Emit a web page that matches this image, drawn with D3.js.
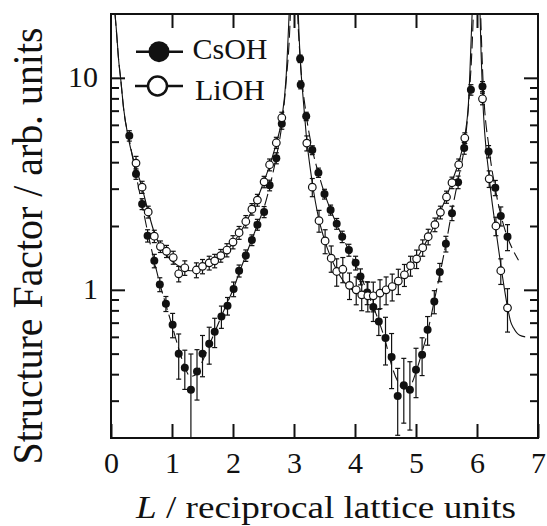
<!DOCTYPE html>
<html><head><meta charset="utf-8">
<script src="https://cdn.jsdelivr.net/npm/d3@7"></script>
<style>
body{margin:0;background:#fff}
svg{display:block}
text{font-family:"Liberation Serif","Times New Roman",serif;fill:#111}
</style>
</head><body>
<svg id="c" width="547" height="526"></svg>
<script>
// ---- data ----
const xTickVals=[0,1,2,3,4,5,6,7];
const xTickLabels=["0","1","2","3","4","5","6","7"];
const yTickVals=[1,10];
const yTickLabels=["1","10"];
const yMinorVals=[0.3,0.4,0.5,0.6,0.7,0.8,0.9,2,3,4,5,6,7,8,9];
const seriesNames=["CsOH","LiOH"];

const csL=[0.30,0.41,0.51,0.60,0.71,0.80,0.90,1.01,1.11,1.21,1.31,1.41,1.50,1.61,1.70,1.81,1.91,2.01,2.10,2.21,2.31,2.40,2.51,2.60,2.71,2.80,3.10,3.11,3.20,3.30,3.40,3.50,3.60,3.70,3.79,3.90,4.01,4.09,4.20,4.30,4.39,4.50,4.60,4.70,4.80,4.90,5.00,5.10,5.19,5.30,5.39,5.49,5.59,5.69,5.79,5.90,6.09,6.19,6.30,6.39,6.50];
const csV=[5.33,3.52,2.54,1.80,1.37,1.06,0.86,0.684,0.499,0.429,0.338,0.412,0.499,0.556,0.634,0.748,0.840,1.008,1.229,1.452,1.716,2.03,2.33,3.11,4.18,6.07,12.3,9.27,6.58,4.56,3.57,2.83,2.38,2.05,1.78,1.54,1.34,1.155,0.971,0.829,0.709,0.592,0.482,0.316,0.355,0.338,0.420,0.494,0.648,0.881,1.212,1.648,2.30,3.22,4.66,8.78,9.10,4.49,3.03,2.23,1.78];
const csE=[0.3,0.2,0.15,0.12,0.1,0.08,0.07,0.09,0.12,0.09,0.16,0.11,0.11,0.11,0.1,0.09,0.08,0.08,0.08,0.09,0.1,0.12,0.14,0.18,0.25,0.35,0.5,0.4,0.3,0.22,0.18,0.15,0.13,0.12,0.11,0.1,0.1,0.1,0.12,0.12,0.1,0.15,0.14,0.11,0.12,0.12,0.11,0.1,0.1,0.11,0.12,0.14,0.18,0.22,0.3,0.5,0.5,0.3,0.25,0.23,0.25];

const liL=[0.41,0.51,0.61,0.71,0.81,0.91,1.02,1.11,1.21,1.40,1.50,1.61,1.70,1.80,1.90,2.00,2.10,2.21,2.31,2.40,2.51,2.60,2.71,2.80,3.21,3.30,3.41,3.51,3.61,3.70,3.80,3.91,4.02,4.11,4.21,4.30,4.41,4.51,4.61,4.71,4.81,4.91,5.01,5.11,5.20,5.31,5.40,5.50,5.59,5.70,5.80,6.09,6.20,6.31,6.39,6.50];
const liV=[3.96,3.05,2.33,1.79,1.60,1.52,1.42,1.19,1.27,1.24,1.29,1.34,1.37,1.45,1.54,1.68,1.86,2.10,2.40,2.65,3.23,3.89,4.94,6.48,4.92,3.05,2.12,1.70,1.41,1.22,1.25,1.05,1.00,0.947,0.937,0.937,0.965,1.00,1.036,1.10,1.177,1.30,1.40,1.58,1.78,2.03,2.32,2.74,3.20,3.89,5.20,7.96,3.34,2.00,1.23,0.822];
const liE=[0.3,0.2,0.15,0.12,0.1,0.1,0.1,0.1,0.1,0.1,0.1,0.1,0.1,0.1,0.11,0.12,0.13,0.14,0.15,0.17,0.2,0.25,0.3,0.4,0.4,0.3,0.25,0.22,0.2,0.18,0.17,0.15,0.15,0.15,0.15,0.15,0.15,0.15,0.15,0.15,0.14,0.14,0.14,0.14,0.15,0.15,0.16,0.18,0.2,0.25,0.3,0.5,0.3,0.2,0.17,0.19];

// fit curves
const fitLiL=[0.066,0.093,0.12,0.16,0.21,0.28,0.37,0.45,0.5,0.6,0.7,0.8,0.9,1.0,1.1,1.2,1.3,1.4,1.5,1.6,1.7,1.8,1.9,2.0,2.1,2.2,2.3,2.4,2.5,2.6,2.7,2.8,2.87,2.92,2.96,
  3.04,3.07,3.1,3.15,3.2,3.3,3.4,3.5,3.6,3.7,3.8,3.9,4.0,4.1,4.2,4.3,4.4,4.5,4.6,4.7,4.8,4.9,5.0,5.1,5.2,5.3,5.4,5.5,5.6,5.7,5.8,5.86,5.92,5.96,
  6.03,6.05,6.09,6.2,6.3,6.4,6.5,6.55,6.6,6.7,6.79];
const fitLiV=[20,16.2,12.6,9.8,7.06,5.28,4.10,3.45,3.1,2.4,1.9,1.62,1.47,1.37,1.3,1.25,1.23,1.23,1.26,1.31,1.37,1.45,1.54,1.66,1.83,2.05,2.33,2.7,3.2,3.85,4.8,6.4,10,20,40,
  40,20,12.5,8,5.4,3.2,2.2,1.72,1.43,1.24,1.11,1.03,0.98,0.95,0.935,0.935,0.95,0.98,1.03,1.09,1.17,1.27,1.39,1.55,1.76,2.02,2.35,2.75,3.3,4.0,5.3,7.6,20,40,
  40,20,8.5,3.4,2.0,1.25,0.83,0.71,0.66,0.61,0.60];
const fitCsL=[0.066,0.093,0.12,0.16,0.21,0.3,0.4,0.5,0.6,0.7,0.8,0.9,1.0,1.1,1.2,1.3,1.4,1.5,1.6,1.7,1.8,1.9,2.0,2.1,2.2,2.3,2.4,2.5,2.6,2.7,2.8,2.87,2.94,2.97,
  3.03,3.06,3.1,3.2,3.3,3.4,3.5,3.6,3.7,3.8,3.9,4.0,4.1,4.2,4.3,4.4,4.5,4.6,4.7,4.8,4.9,5.0,5.1,5.2,5.3,5.4,5.5,5.6,5.7,5.8,5.87,5.94,5.97,
  6.03,6.06,6.1,6.2,6.3,6.4,6.5,6.6,6.68];
const fitCsV=[20,16,12.6,9.8,7.0,5.1,3.6,2.6,1.88,1.40,1.07,0.85,0.68,0.54,0.44,0.39,0.40,0.46,0.54,0.63,0.74,0.86,1.0,1.2,1.43,1.7,2.02,2.4,3.05,4.1,6.0,9.5,20,40,
  40,20,12.5,6.7,4.6,3.55,2.85,2.38,2.04,1.77,1.53,1.33,1.15,0.98,0.83,0.70,0.57,0.44,0.37,0.34,0.35,0.41,0.51,0.65,0.89,1.22,1.7,2.45,3.4,4.9,8,20,40,
  40,20,9.5,4.6,3.0,2.2,1.77,1.52,1.38];

// ---- layout ----
const svg=d3.select("#c");
const pL=111,pR=538,pT=14,pB=438;
const x=d3.scaleLinear().domain([0,7]).range([pL,pR]);
const y=d3.scaleLog().domain([0.2,20]).range([pB,pT]);

svg.append("defs").append("clipPath").attr("id","clip")
  .append("rect").attr("x",pL).attr("y",pT).attr("width",pR-pL).attr("height",pB-pT);

const plot=svg.append("g").attr("clip-path","url(#clip)");

// curves
const line=d3.line().x(d=>x(d[0])).y(d=>y(d[1])).curve(d3.curveMonotoneX);
const liFit=fitLiL.map((l,i)=>[l,fitLiV[i]]);
const csFit=fitCsL.map((l,i)=>[l,fitCsV[i]]);
plot.append("path").attr("d",line(csFit)).attr("fill","none").attr("stroke","#111").attr("stroke-width",1.1).attr("stroke-dasharray","12,5");
plot.append("path").attr("d",line(liFit)).attr("fill","none").attr("stroke","#111").attr("stroke-width",1.1);

function errBars(L,V,E){
  const g=plot.append("g").attr("stroke","#111").attr("stroke-width",1.2).attr("fill","none");
  L.forEach((l,i)=>{
    const cx=x(l), y1=y(V[i]+E[i]), y0=y(Math.max(V[i]-E[i],0.05));
    g.append("line").attr("x1",cx).attr("x2",cx).attr("y1",y1).attr("y2",y0);
    g.append("line").attr("x1",cx-2.5).attr("x2",cx+2.5).attr("y1",y1).attr("y2",y1);
    g.append("line").attr("x1",cx-2.5).attr("x2",cx+2.5).attr("y1",y0).attr("y2",y0);
  });
}
errBars(csL,csV,csE);
errBars(liL,liV,liE);

plot.append("g").selectAll("circle").data(csL.map((l,i)=>[l,csV[i]])).join("circle")
  .attr("cx",d=>x(d[0])).attr("cy",d=>y(d[1])).attr("r",4).attr("fill","#111");
plot.append("g").selectAll("circle").data(liL.map((l,i)=>[l,liV[i]])).join("circle")
  .attr("cx",d=>x(d[0])).attr("cy",d=>y(d[1])).attr("r",3.8).attr("fill","#fff").attr("stroke","#111").attr("stroke-width",1.2);

// axes frame
svg.append("rect").attr("x",pL).attr("y",pT).attr("width",pR-pL).attr("height",pB-pT)
  .attr("fill","none").attr("stroke","#111").attr("stroke-width",2);

// ticks via d3 axes (inward)
const fontSize=30;
const axB=d3.axisBottom(x).tickValues(xTickVals).tickFormat((d,i)=>xTickLabels[i]).tickSizeInner(-14).tickSizeOuter(0).tickPadding(22);
const gB=svg.append("g").attr("transform",`translate(0,${pB})`).call(axB);
const axT=d3.axisTop(x).tickValues(xTickVals.slice(1,-1)).tickFormat("").tickSizeInner(-14).tickSizeOuter(0);
const gT=svg.append("g").attr("transform",`translate(0,${pT})`).call(axT);
const axLt=d3.axisLeft(y).tickValues(yTickVals).tickFormat((d,i)=>yTickLabels[i]).tickSizeInner(-14).tickSizeOuter(0).tickPadding(27);
const gL=svg.append("g").attr("transform",`translate(${pL},0)`).call(axLt);
const axLm=d3.axisLeft(y).tickValues(yMinorVals).tickFormat("").tickSizeInner(-8).tickSizeOuter(0);
const gLm=svg.append("g").attr("transform",`translate(${pL},0)`).call(axLm);
const axRt=d3.axisRight(y).tickValues(yTickVals).tickFormat("").tickSizeInner(-14).tickSizeOuter(0);
const gR=svg.append("g").attr("transform",`translate(${pR},0)`).call(axRt);
const axRm=d3.axisRight(y).tickValues(yMinorVals).tickFormat("").tickSizeInner(-8).tickSizeOuter(0);
const gRm=svg.append("g").attr("transform",`translate(${pR},0)`).call(axRm);
[gB,gT,gL,gLm,gR,gRm].forEach(g=>{
  g.select(".domain").remove();
  g.selectAll(".tick line").attr("stroke","#111").attr("stroke-width",2);
  g.selectAll(".tick text").attr("font-family","Liberation Serif, Times New Roman, serif").attr("font-size",fontSize).attr("fill","#111");
});
gB.selectAll(".tick text").attr("dy","0.71em").attr("y",14);
gL.selectAll(".tick text").attr("dy","0.3em").attr("x",-13);

// axis titles
const xt=svg.append("text").attr("x",326).attr("y",518).attr("text-anchor","middle").attr("font-size",31)
  .attr("textLength",380).attr("lengthAdjust","spacingAndGlyphs");
xt.append("tspan").attr("font-style","italic").text("L");
xt.append("tspan").text(" / reciprocal lattice units");

svg.append("text").attr("transform","translate(42,246) rotate(-90)").attr("text-anchor","middle")
  .attr("font-size",42).attr("textLength",437).attr("lengthAdjust","spacingAndGlyphs")
  .text("Structure Factor / arb. units");

// legend
const lg=svg.append("g");
lg.append("line").attr("x1",136).attr("x2",183).attr("y1",51.7).attr("y2",51.7).attr("stroke","#111").attr("stroke-width",2.5);
lg.append("circle").attr("cx",159).attr("cy",51.7).attr("r",10.5).attr("fill","#111");
lg.append("text").attr("x",192.5).attr("y",59).attr("font-size",30).text(seriesNames[0]);
lg.append("line").attr("x1",135).attr("x2",183).attr("y1",86).attr("y2",86).attr("stroke","#111").attr("stroke-width",2.5);
lg.append("circle").attr("cx",157.5).attr("cy",86).attr("r",9.5).attr("fill","#fff").attr("stroke","#111").attr("stroke-width",2.5);
lg.append("text").attr("x",195).attr("y",100).attr("font-size",30).text(seriesNames[1]);
</script>
</body></html>
